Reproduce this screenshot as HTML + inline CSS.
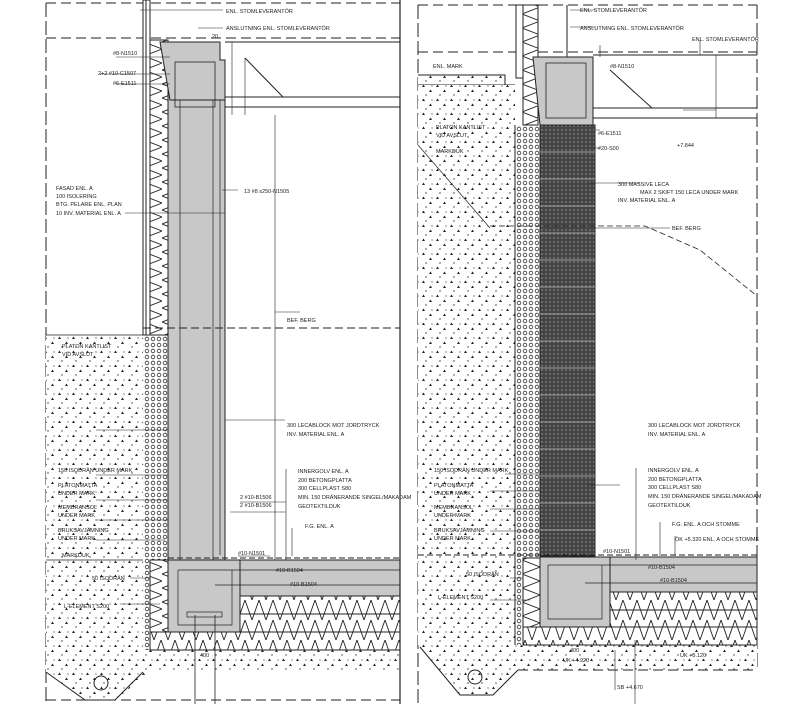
<!DOCTYPE html>
<html><head><meta charset="utf-8"><style>
html,body{margin:0;padding:0;background:#fff}
svg{display:block}
text{font-family:"Liberation Sans",sans-serif;font-size:5.5px;fill:#222}
</style></head><body>
<svg width="800" height="704" viewBox="0 0 800 704" xmlns="http://www.w3.org/2000/svg">
<defs>
<pattern id="soil" width="14" height="14" patternUnits="userSpaceOnUse">
<rect width="14" height="14" fill="#fff"/>
<path d="M2 3l1.5-2.5 1.5 2.5z M9 8l1.5-2.5 1.5 2.5z" fill="#222"/>
<circle cx="6" cy="11" r=".7" fill="#333"/><circle cx="12" cy="2" r=".6" fill="#333"/>
</pattern>
<pattern id="drain" width="6" height="6" patternUnits="userSpaceOnUse">
<rect width="6" height="6" fill="#fff"/><circle cx="3" cy="3" r="1.8" fill="none" stroke="#333" stroke-width=".8"/>
</pattern>
<pattern id="leca" width="4" height="4" patternUnits="userSpaceOnUse">
<rect width="4" height="4" fill="#444"/><circle cx="2" cy="2" r="1" fill="#777"/>
</pattern>
<pattern id="zz" width="14" height="20" patternUnits="userSpaceOnUse">
<rect width="14" height="20" fill="#fff"/><path d="M0 20L7 0L14 20" fill="none" stroke="#222" stroke-width=".9"/>
</pattern>
<pattern id="zzv" width="18" height="14" patternUnits="userSpaceOnUse">
<rect width="18" height="14" fill="#fff"/><path d="M0 0L18 7L0 14" fill="none" stroke="#222" stroke-width=".9"/>
</pattern>
</defs>
<g stroke="#222" fill="none" stroke-width="1">
<!-- LEFT PANEL -->
<path d="M46 3H400" stroke-dasharray="10 5"/>
<path d="M46 3V704" stroke-dasharray="14 4"/>
<path d="M46 38H400" stroke-dasharray="10 5"/>
<rect x="46" y="335" width="97" height="325" fill="url(#soil)" stroke="none"/>
<path d="M46 660H143V650H400V672H150L115 700H85L46 672Z" fill="url(#soil)" stroke="none"/>
<circle cx="101" cy="683" r="7"/>
<path d="M46 672L85 700H115L143 672"/>
<rect x="143" y="335" width="25" height="315" fill="url(#drain)" stroke="none"/>
<rect x="150" y="560" width="18" height="90" fill="url(#zzv)"/>
<rect x="143" y="0" width="7" height="335" fill="#fff"/>
<path d="M146 0V335"/>
<rect x="150" y="40" width="18" height="295" fill="url(#zzv)"/>
<rect x="168" y="60" width="57" height="500" fill="#c8c8c8"/>
<path d="M180 60V560M213 60V560M220 60V555" stroke-width=".7"/>
<path d="M160 42H220V60L225 60V100H170Z" fill="#c8c8c8"/>
<rect x="175" y="62" width="40" height="45" stroke-width=".8"/>
<path d="M225 42H400M225 97H400M225 107H400"/>
<path d="M245 58L283 97"/>
<path d="M232 42V115M245 58V115M275 115V560" stroke-width=".6"/>
<path d="M143 328H400" stroke-dasharray="8 4"/>
<path d="M46 335H143M46 560H143" stroke-width=".8"/>
<rect x="168" y="560" width="232" height="36" fill="#c8c8c8"/>
<rect x="168" y="560" width="72" height="72" fill="#c8c8c8"/>
<rect x="240" y="596" width="160" height="18" fill="url(#zz)"/>
<rect x="240" y="614" width="160" height="18" fill="url(#zz)"/>
<rect x="150" y="632" width="250" height="18" fill="url(#zz)"/>
<path d="M178 570V625H232V570M178 570H400M215 585H400" stroke-width=".7"/>
<rect x="187" y="612" width="35" height="5" stroke-width=".7"/>
<path d="M195 615V704M215 615V704" stroke-width=".8"/>
<path d="M168 558H400" stroke-dasharray="6 3"/>
<path d="M46 700H400" stroke-dasharray="10 5"/>
<path d="M400 0V704" stroke-width="1.2"/>
<path d="M140 10H223M198 28H223M116 57H170M100 74H170M116 84H170M125 213H225M238 190H222M285 420H225M300 312H275M96 430H168M96 475H168M96 500H168M96 520H168M96 540H165M130 578H150M120 604H160M286 502H240M286 512H230M238 556H270M286 469V560M292 528V556" stroke-width=".6"/>
<!-- RIGHT PANEL -->
<path d="M418 5H757M418 52H757" stroke-dasharray="10 5"/>
<path d="M418 5V704M757 5V670" stroke-dasharray="14 4"/>
<rect x="418" y="75" width="87" height="10" fill="url(#soil)" stroke="none"/>
<path d="M418 75H505V85M418 85H515"/>
<rect x="418" y="85" width="97" height="560" fill="url(#soil)" stroke="none"/>
<path d="M418 645H757V670H518L493 695H460L420 647Z" fill="url(#soil)" stroke="none"/>
<path d="M420 647L460 695H493L518 670"/>
<circle cx="475" cy="677" r="7"/>
<path d="M418 145L490 228" stroke-width=".7"/>
<rect x="515" y="125" width="25" height="520" fill="url(#drain)" stroke="none"/>
<path d="M515 125V645"/>
<rect x="523" y="558" width="17" height="69" fill="url(#zzv)"/>
<rect x="516" y="5" width="7" height="73" fill="#fff"/>
<rect x="523" y="5" width="15" height="120" fill="url(#zzv)"/>
<path d="M538 5V57M567 5V57"/>
<path d="M533 57H593V125H540Z" fill="#c8c8c8"/>
<rect x="546" y="63" width="40" height="55" stroke-width=".8"/>
<rect x="540" y="125" width="55" height="431" fill="url(#leca)"/>
<path d="M540 152H595M540 179H595M540 206H595M540 233H595M540 260H595M540 287H595M540 314H595M540 341H595M540 368H595M540 395H595M540 422H595M540 449H595M540 476H595M540 503H595M540 530H595" stroke="#bbb" stroke-width=".8"/>
<path d="M593 55H757M593 108H757M593 118H757M610 70L652 108"/>
<path d="M490 226H645L700 250L757 296" stroke-dasharray="6 3" stroke-width=".8"/>
<path d="M716 55V118M716 118V111M683 110H716" stroke-width=".6"/>
<rect x="540" y="557" width="217" height="35" fill="#c8c8c8"/>
<rect x="540" y="557" width="70" height="70" fill="#c8c8c8"/>
<path d="M548 565V619H602V565M548 565H757M585 583H757" stroke-width=".7"/>
<rect x="610" y="592" width="147" height="18" fill="url(#zz)"/>
<rect x="610" y="610" width="147" height="17" fill="url(#zz)"/>
<rect x="523" y="627" width="234" height="18" fill="url(#zz)"/>
<path d="M418 555H757" stroke-dasharray="6 3"/>
<path d="M518 670H757" stroke-dasharray="10 5"/>
<path d="M570 10H595M570 27H595M600 45V57M610 55H625M595 130H600M595 148H600M590 183H640M595 228H670M587 485H620M505 474H540M490 491H540M490 509H540M490 531H540M510 578H523M490 600H530M636 468V560M660 522V556M675 536V556M635 640V704M700 40V55M615 650V690" stroke-width=".6"/>
</g>
<!-- LEFT TEXT -->
<text x="226" y="13">ENL. STOMLEVERANTÖR</text>
<text x="226" y="30">ANSLUTNING ENL. STOMLEVERANTÖR</text>
<text x="212" y="38" font-size="4.5">20</text>
<text x="113" y="55">#8-N1510</text>
<text x="98" y="75">2+2 #10-C1507</text>
<text x="113" y="85">#6-E1511</text>
<text x="56" y="190">FASAD ENL. A</text>
<text x="56" y="198">100 ISOLERING</text>
<text x="56" y="206">BTG. PELARE ENL. PLAN</text>
<text x="56" y="215">10 INV. MATERIAL ENL. A</text>
<text x="244" y="193">13 #8 s250-N1505</text>
<text x="287" y="322">BEF. BERG</text>
<text x="62" y="348">PLATON KANTLIST</text>
<text x="62" y="356">VID AVSLUT</text>
<text x="287" y="427">300 LECABLOCK MOT JORDTRYCK</text>
<text x="287" y="436">INV. MATERIAL ENL. A</text>
<text x="58" y="472">150 ISODRÄN UNDER MARK</text>
<text x="58" y="487">PLATONMATTA</text>
<text x="58" y="495">UNDER MARK</text>
<text x="58" y="509">MEMBRANSOL</text>
<text x="58" y="517">UNDER MARK</text>
<text x="58" y="532">BRUKSAVJÄMNING</text>
<text x="58" y="540">UNDER MARK</text>
<text x="62" y="557">MARKDUK</text>
<text x="298" y="473">INNERGOLV ENL. A</text>
<text x="298" y="482">200 BETONGPLATTA</text>
<text x="298" y="490">300 CELLPLAST S80</text>
<text x="298" y="499">MIN. 150 DRÄNERANDE SINGEL/MAKADAM</text>
<text x="298" y="508">GEOTEXTILDUK</text>
<text x="240" y="499">2 #10-B1506</text>
<text x="240" y="507">2 #10-B1506</text>
<text x="305" y="528">F.G. ENL. A</text>
<text x="238" y="555">#10-N1501</text>
<text x="276" y="572">#10-B1504</text>
<text x="290" y="586">#10-B1504</text>
<text x="92" y="580">50 ISODRÄN</text>
<text x="64" y="608">L-ELEMENT S200</text>
<text x="200" y="657">400</text>
<!-- RIGHT TEXT -->
<text x="580" y="12">ENL. STOMLEVERANTÖR</text>
<text x="580" y="30">ANSLUTNING ENL. STOMLEVERANTÖR</text>
<text x="692" y="41">ENL. STOMLEVERANTÖR</text>
<text x="433" y="68">ENL. MARK</text>
<text x="610" y="68">#8-N1510</text>
<text x="436" y="129">PLATON KANTLIST</text>
<text x="436" y="137">VID AVSLUT</text>
<text x="436" y="153">MARKDUK</text>
<text x="598" y="135">#6-E1511</text>
<text x="598" y="150">#20-S00</text>
<text x="677" y="147">+7.844</text>
<text x="618" y="186">300 MASSIVE LECA</text>
<text x="640" y="194">MAX 2 SKIFT 150 LECA UNDER MARK</text>
<text x="618" y="202">INV. MATERIAL ENL. A</text>
<text x="672" y="230">BEF. BERG</text>
<text x="648" y="427">300 LECABLOCK MOT JORDTRYCK</text>
<text x="648" y="436">INV. MATERIAL ENL. A</text>
<text x="434" y="472">150 ISODRÄN UNDER MARK</text>
<text x="434" y="487">PLATONMATTA</text>
<text x="434" y="495">UNDER MARK</text>
<text x="434" y="509">MEMBRANSOL</text>
<text x="434" y="517">UNDER MARK</text>
<text x="434" y="532">BRUKSAVJÄMNING</text>
<text x="434" y="540">UNDER MARK</text>
<text x="648" y="472">INNERGOLV ENL. A</text>
<text x="648" y="481">200 BETONGPLATTA</text>
<text x="648" y="489">300 CELLPLAST S80</text>
<text x="648" y="498">MIN. 150 DRÄNERANDE SINGEL/MAKADAM</text>
<text x="648" y="507">GEOTEXTILDUK</text>
<text x="672" y="526">F.G. ENL. A OCH STOMME</text>
<text x="675" y="541">ÖK +5.320 ENL. A OCH STOMME</text>
<text x="603" y="553">#10-N1501</text>
<text x="648" y="569">#10-B1504</text>
<text x="660" y="582">#10-B1504</text>
<text x="466" y="576">50 ISODRÄN</text>
<text x="438" y="599">L-ELEMENT S200</text>
<text x="570" y="652">400</text>
<text x="563" y="662">UK +4.920</text>
<text x="680" y="657">UK +5.120</text>
<text x="617" y="689">SB +4.670</text>
</svg>
</body></html>
